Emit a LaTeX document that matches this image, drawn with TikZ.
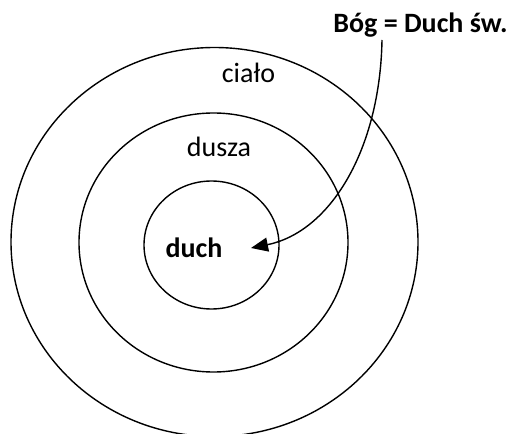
\documentclass[tikz,border=0pt]{standalone}
\usepackage{fontspec}
\setmainfont{Carlito}
\usetikzlibrary{arrows.meta}
\tikzset{
    ring/.style={draw=black, line width=1.4bp},
    word/.style={font=\fontsize{28bp}{34bp}\selectfont, anchor=base, inner sep=0pt},
    boldword/.style={word, font=\fontsize{28bp}{34bp}\selectfont\bfseries},
    arrow/.style={-{Triangle[length=17bp, width=14bp]}, line width=1.4bp},
}
\begin{document}
\begin{tikzpicture}[x=1bp, y=-1bp]
    \useasboundingbox (0,0) rectangle (514,434);

    % rings
    \draw[ring] (214.5,242) ellipse [x radius=203.5, y radius=194.5];
    \draw[ring] (213.5,242.5) ellipse [x radius=134.5, y radius=129.5];
    \draw[ring] (211.5,245) ellipse [x radius=67.5, y radius=64];

    % labels
    \node[boldword] (bog) at (420.5,33) {Bóg = Duch św.};
    \node[word] (cialo) at (248.5,83) {ciało};
    \node[word] (dusza) at (219,157) {dusza};
    \node[boldword] (duch) at (194,257) {duch};

    % arrow from God to the spirit
    \coordinate (start) at (382,40);
    \coordinate (tip) at (251,248);
    \draw[arrow] (start) .. controls (380,150) and (330,232) .. (tip);
\end{tikzpicture}
\end{document}
